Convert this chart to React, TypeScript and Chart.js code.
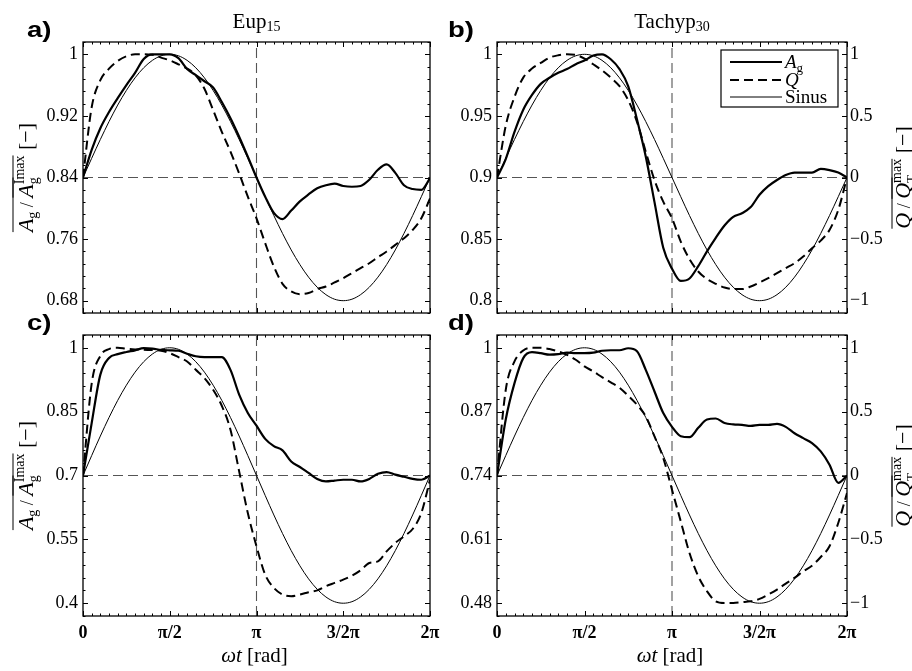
import React, { useEffect, useRef } from 'react';
import { Chart, registerables } from 'chart.js';

Chart.register(...registerables);

const W = 912;
const H = 671;
const SERIF = "'Liberation Serif', 'Times New Roman', serif";
const SANS = "'Liberation Sans', Arial, sans-serif";

// phase in units of pi (0 .. 2)
const PHASE = [0, 0.05, 0.1, 0.15, 0.2, 0.25, 0.3, 0.35, 0.4, 0.45, 0.5, 0.55, 0.6, 0.65, 0.7, 0.75, 0.8, 0.85, 0.9, 0.95, 1, 1.05, 1.1, 1.15, 1.2, 1.25, 1.3, 1.35, 1.4, 1.45, 1.5, 1.55, 1.6, 1.65, 1.7, 1.75, 1.8, 1.85, 1.9, 1.95, 2];

const SINUS = [0, 0.156, 0.309, 0.454, 0.588, 0.707, 0.809, 0.891, 0.951, 0.988, 1, 0.988, 0.951, 0.891, 0.809, 0.707, 0.588, 0.454, 0.309, 0.156, 0, -0.156, -0.309, -0.454, -0.588, -0.707, -0.809, -0.891, -0.951, -0.988, -1, -0.988, -0.951, -0.891, -0.809, -0.707, -0.588, -0.454, -0.309, -0.156, 0];

// a) Eup15
const AG_EUP15 = [0.840, 0.876, 0.904, 0.925, 0.943, 0.960, 0.976, 0.994, 1.0, 1.0, 1.0, 0.995, 0.981, 0.973, 0.965, 0.957, 0.938, 0.917, 0.893, 0.867, 0.840, 0.815, 0.794, 0.786, 0.797, 0.809, 0.818, 0.826, 0.830, 0.832, 0.829, 0.828, 0.829, 0.837, 0.850, 0.857, 0.846, 0.830, 0.825, 0.824, 0.839];
const Q_EUP15 = [0, 0.57, 0.79, 0.884, 0.946, 0.984, 1.0, 1.0, 0.997, 0.973, 0.951, 0.919, 0.884, 0.83, 0.72, 0.547, 0.371, 0.21, 0.033, -0.156, -0.331, -0.533, -0.722, -0.863, -0.925, -0.947, -0.938, -0.906, -0.885, -0.852, -0.817, -0.777, -0.736, -0.696, -0.647, -0.601, -0.547, -0.493, -0.426, -0.331, -0.17];

// b) Tachyp30
const AG_TACHYP30 = [0.9, 0.915, 0.937, 0.955, 0.967, 0.976, 0.981, 0.985, 0.988, 0.992, 0.995, 0.999, 1.0, 0.996, 0.988, 0.974, 0.947, 0.917, 0.880, 0.843, 0.826, 0.816, 0.818, 0.828, 0.840, 0.851, 0.861, 0.868, 0.871, 0.876, 0.886, 0.893, 0.898, 0.902, 0.904, 0.904, 0.904, 0.907, 0.906, 0.904, 0.9];
const Q_TACHYP30 = [0, 0.42, 0.654, 0.811, 0.884, 0.93, 0.973, 0.992, 1.0, 0.995, 0.965, 0.919, 0.87, 0.811, 0.741, 0.627, 0.452, 0.209, -0.021, -0.196, -0.331, -0.52, -0.663, -0.763, -0.825, -0.863, -0.893, -0.906, -0.906, -0.885, -0.852, -0.817, -0.777, -0.736, -0.696, -0.642, -0.574, -0.512, -0.426, -0.264, 0];

// c)
const AG_C = [0.70, 0.823, 0.937, 0.976, 0.985, 0.990, 0.994, 0.999, 0.998, 0.995, 0.994, 0.993, 0.986, 0.980, 0.978, 0.978, 0.978, 0.948, 0.890, 0.847, 0.817, 0.786, 0.769, 0.759, 0.733, 0.720, 0.706, 0.692, 0.686, 0.688, 0.690, 0.690, 0.686, 0.692, 0.704, 0.708, 0.702, 0.697, 0.692, 0.690, 0.700];
const Q_C = [0, 0.72, 0.937, 0.99, 1.0, 0.992, 0.987, 0.984, 0.982, 0.977, 0.958, 0.927, 0.893, 0.828, 0.763, 0.671, 0.546, 0.358, 0.032, -0.294, -0.554, -0.776, -0.88, -0.932, -0.945, -0.932, -0.914, -0.899, -0.867, -0.841, -0.815, -0.784, -0.742, -0.685, -0.672, -0.594, -0.528, -0.476, -0.419, -0.294, -0.033];

// d)
const AG_D = [0.740, 0.854, 0.928, 0.979, 0.991, 0.989, 0.986, 0.987, 0.990, 0.989, 0.989, 0.990, 0.994, 0.995, 0.995, 0.999, 0.993, 0.955, 0.911, 0.867, 0.839, 0.820, 0.818, 0.837, 0.854, 0.856, 0.847, 0.844, 0.843, 0.841, 0.843, 0.843, 0.845, 0.839, 0.826, 0.816, 0.806, 0.789, 0.762, 0.725, 0.740];
const Q_D = [0, 0.671, 0.893, 0.979, 1.0, 1.0, 0.99, 0.971, 0.945, 0.906, 0.854, 0.815, 0.77, 0.729, 0.687, 0.624, 0.554, 0.463, 0.306, 0.137, -0.111, -0.359, -0.607, -0.789, -0.906, -0.985, -0.998, -0.998, -0.992, -0.985, -0.966, -0.932, -0.893, -0.846, -0.802, -0.75, -0.706, -0.638, -0.554, -0.372, -0.137];

const X_TICKS = [0, 0.5, 1, 1.5, 2];
const X_LABELS = ['0', 'π/2', 'π', '3/2π', '2π'];
const Q_TICKS = [-1, -0.5, 0, 0.5, 1];
const Q_LABELS = ['−1', '−0.5', '0', '0.5', '1'];
const Q_RANGE = [-1.1, 1.1];

const Y_TICKS_A = [0.68, 0.76, 0.84, 0.92, 1];
const Y_LABELS_A = ['0.68', '0.76', '0.84', '0.92', '1'];
const Y_RANGE_A = [0.664, 1.016];
const Y_TICKS_B = [0.8, 0.85, 0.9, 0.95, 1];
const Y_LABELS_B = ['0.8', '0.85', '0.9', '0.95', '1'];
const Y_RANGE_B = [0.79, 1.01];
const Y_TICKS_C = [0.4, 0.55, 0.7, 0.85, 1];
const Y_LABELS_C = ['0.4', '0.55', '0.7', '0.85', '1'];
const Y_RANGE_C = [0.37, 1.03];
const Y_TICKS_D = [0.48, 0.61, 0.74, 0.87, 1];
const Y_LABELS_D = ['0.48', '0.61', '0.74', '0.87', '1'];
const Y_RANGE_D = [0.454, 1.026];

const REF_Q = 0;
const REF_PHASE = 1;

const YW = 60;
const Y2W = 50;
const XH = 30;

type Run = { t: string; size: number; italic?: boolean; dy?: number; ol?: boolean; noAdv?: boolean };

type Spec = {
  key: string;
  area: { l: number; r: number; t: number; b: number };
  ag: number[];
  q: number[];
  yTicks: number[];
  yLabels: string[];
  yRange: number[];
  letter: string;
  letterPos: [number, number];
  title: [string, string] | null;
  showX: boolean;
  showRight: boolean;
  leftTitle: boolean;
  rightTitle: boolean;
  legend: boolean;
};

const PANELS: Spec[] = [
  { key: 'a', area: { l: 83, r: 430, t: 42, b: 313 }, ag: AG_EUP15, q: Q_EUP15, yTicks: Y_TICKS_A, yLabels: Y_LABELS_A, yRange: Y_RANGE_A, letter: 'a)', letterPos: [27, 36.5], title: ['Eup', '15'], showX: false, showRight: false, leftTitle: true, rightTitle: false, legend: false },
  { key: 'b', area: { l: 497, r: 847, t: 42, b: 313 }, ag: AG_TACHYP30, q: Q_TACHYP30, yTicks: Y_TICKS_B, yLabels: Y_LABELS_B, yRange: Y_RANGE_B, letter: 'b)', letterPos: [448, 36.5], title: ['Tachyp', '30'], showX: false, showRight: true, leftTitle: false, rightTitle: true, legend: true },
  { key: 'c', area: { l: 83, r: 430, t: 335, b: 616 }, ag: AG_C, q: Q_C, yTicks: Y_TICKS_C, yLabels: Y_LABELS_C, yRange: Y_RANGE_C, letter: 'c)', letterPos: [27, 330], title: null, showX: true, showRight: false, leftTitle: true, rightTitle: false, legend: false },
  { key: 'd', area: { l: 497, r: 847, t: 335, b: 616 }, ag: AG_D, q: Q_D, yTicks: Y_TICKS_D, yLabels: Y_LABELS_D, yRange: Y_RANGE_D, letter: 'd)', letterPos: [448, 330], title: null, showX: true, showRight: true, leftTitle: false, rightTitle: true, legend: false },
];

const labelFor = (vals: number[], labels: string[], v: number) => {
  const i = vals.findIndex((t) => Math.abs(t - v) < 1e-6);
  return i >= 0 ? labels[i] : '';
};

function tickMarks(vals: number[], div: number, min: number, max: number): [number, boolean][] {
  const out: [number, boolean][] = [];
  const step = (vals[1] - vals[0]) / div;
  vals.forEach((v) => out.push([v, true]));
  for (let i = 0; i < vals.length - 1; i++) {
    for (let j = 1; j < div; j++) out.push([vals[i] + ((vals[i + 1] - vals[i]) * j) / div, false]);
  }
  for (let v = vals[0] - step; v >= min - 1e-9; v -= step) out.push([v, false]);
  for (let v = vals[vals.length - 1] + step; v <= max + 1e-9; v += step) out.push([v, false]);
  return out;
}

const runFont = (r: Run) => `${r.italic ? 'italic ' : ''}${r.size}px ${SERIF}`;

function drawRuns(ctx: CanvasRenderingContext2D, runs: Run[], x: number, y: number, align: 'center' | 'left', olOff: number) {
  const widths = runs.map((r) => {
    ctx.font = runFont(r);
    return ctx.measureText(r.t).width;
  });
  let total = 0;
  runs.forEach((r, i) => {
    if (!r.noAdv) total += widths[i];
  });
  let cx = align === 'center' ? x - total / 2 : x;
  ctx.textAlign = 'left';
  ctx.textBaseline = 'alphabetic';
  let olStart: number | null = null;
  let olEnd = 0;
  const flush = () => {
    if (olStart !== null) {
      ctx.beginPath();
      ctx.lineWidth = 1;
      ctx.moveTo(olStart, y - olOff);
      ctx.lineTo(olEnd, y - olOff);
      ctx.stroke();
      olStart = null;
    }
  };
  runs.forEach((r, i) => {
    ctx.font = runFont(r);
    ctx.fillText(r.t, cx, y + (r.dy || 0));
    if (r.ol) {
      if (olStart === null) olStart = cx;
      olEnd = Math.max(olEnd, cx + widths[i]);
    } else {
      flush();
    }
    if (!r.noAdv) cx += widths[i];
  });
  flush();
}

const LEFT_TITLE: Run[] = [
  { t: 'A', size: 22, italic: true, ol: true },
  { t: 'g', size: 14, dy: 4, ol: true },
  { t: ' / ', size: 18 },
  { t: 'A', size: 22, italic: true, ol: true },
  { t: 'g', size: 14, dy: 5, ol: true, noAdv: true },
  { t: 'Imax', size: 14, dy: -9, ol: true },
  { t: ' [−]', size: 22 },
];

const RIGHT_TITLE: Run[] = [
  { t: 'Q', size: 22, italic: true, ol: true },
  { t: ' / ', size: 18 },
  { t: 'Q', size: 22, italic: true, ol: true },
  { t: 'T', size: 13, dy: 5, ol: true, noAdv: true },
  { t: 'max', size: 14, dy: -9, ol: true },
  { t: ' [−]', size: 22 },
];

const X_TITLE: Run[] = [
  { t: 'ω', size: 21, italic: true },
  { t: 't', size: 21, italic: true },
  { t: ' [rad]', size: 21 },
];

function makeChart(canvas: HTMLCanvasElement, spec: Spec) {
  const pts = (ys: number[]) => PHASE.map((x, i) => ({ x, y: ys[i] }));
  const { area } = spec;

  const decor = {
    id: 'decor',
    afterDatasetsDraw(chart: any) {
      const ctx: CanvasRenderingContext2D = chart.ctx;
      const a = chart.chartArea;
      const sx = chart.scales.x;
      const sy = chart.scales.y;
      const sq = chart.scales.y2;
      ctx.save();
      ctx.strokeStyle = '#000';
      ctx.lineWidth = 1;
      ctx.beginPath();
      tickMarks(X_TICKS, 10, sx.min, sx.max).forEach(([v, major]) => {
        const p = Math.round(sx.getPixelForValue(v)) + 0.5;
        const len = major ? 5 : 2.5;
        ctx.moveTo(p, a.bottom);
        ctx.lineTo(p, a.bottom - len);
        ctx.moveTo(p, a.top);
        ctx.lineTo(p, a.top + len);
      });
      tickMarks(spec.yTicks, 5, sy.min, sy.max).forEach(([v, major]) => {
        const p = Math.round(sy.getPixelForValue(v)) + 0.5;
        const len = major ? 5 : 2.5;
        ctx.moveTo(a.left, p);
        ctx.lineTo(a.left + len, p);
      });
      tickMarks(Q_TICKS, 5, sq.min, sq.max).forEach(([v, major]) => {
        const p = Math.round(sq.getPixelForValue(v)) + 0.5;
        const len = major ? 5 : 2.5;
        ctx.moveTo(a.right, p);
        ctx.lineTo(a.right - len, p);
      });
      ctx.stroke();
      ctx.lineWidth = 1.3;
      ctx.strokeRect(a.left, a.top, a.right - a.left, a.bottom - a.top);

      if (spec.legend) {
        const bx = a.right - 126;
        const by = a.top + 8;
        const bw = 117;
        const bh = 57;
        ctx.fillStyle = '#fff';
        ctx.fillRect(bx, by, bw, bh);
        ctx.lineWidth = 1.2;
        ctx.strokeRect(bx, by, bw, bh);
        const rows = [12, 30, 47];
        const styles = [
          { w: 2.2, dash: [] as number[] },
          { w: 2, dash: [9, 5] },
          { w: 1, dash: [] as number[] },
        ];
        rows.forEach((ry, i) => {
          ctx.beginPath();
          ctx.lineWidth = styles[i].w;
          ctx.setLineDash(styles[i].dash);
          ctx.moveTo(bx + 9, by + ry);
          ctx.lineTo(bx + 61, by + ry);
          ctx.stroke();
        });
        ctx.setLineDash([]);
        ctx.fillStyle = '#000';
        drawRuns(ctx, [{ t: 'A', size: 19, italic: true }, { t: 'g', size: 13, dy: 4 }], bx + 64, by + rows[0] + 6, 'left', 0);
        drawRuns(ctx, [{ t: 'Q', size: 19, italic: true }], bx + 64, by + rows[1] + 6, 'left', 0);
        drawRuns(ctx, [{ t: 'Sinus', size: 19 }], bx + 64, by + rows[2] + 6, 'left', 0);
      }
      ctx.restore();
    },
    afterDraw(chart: any) {
      const ctx: CanvasRenderingContext2D = chart.ctx;
      const a = chart.chartArea;
      ctx.save();
      ctx.fillStyle = '#000';
      ctx.strokeStyle = '#000';
      // panel letter
      ctx.save();
      ctx.translate(spec.letterPos[0], spec.letterPos[1]);
      ctx.scale(1.25, 1);
      ctx.font = `bold 22px ${SANS}`;
      ctx.textAlign = 'left';
      ctx.textBaseline = 'alphabetic';
      ctx.fillText(spec.letter, 0, 0);
      ctx.restore();
      // title
      if (spec.title) {
        drawRuns(ctx, [{ t: spec.title[0], size: 21 }, { t: spec.title[1], size: 14, dy: 3 }], (a.left + a.right) / 2, a.top - 14, 'center', 0);
      }
      if (spec.showX) {
        drawRuns(ctx, X_TITLE, (a.left + a.right) / 2 - 2, 662, 'center', 0);
      }
      if (spec.leftTitle) {
        ctx.save();
        ctx.translate(23, (a.top + a.bottom) / 2);
        ctx.rotate(-Math.PI / 2);
        drawRuns(ctx, LEFT_TITLE, 0, 10, 'center', 20);
        ctx.restore();
      }
      if (spec.rightTitle) {
        ctx.save();
        ctx.translate(901, (a.top + a.bottom) / 2);
        ctx.rotate(-Math.PI / 2);
        drawRuns(ctx, RIGHT_TITLE, 0, 9, 'center', 18);
        ctx.restore();
      }
      ctx.restore();
    },
  };

  const tickFont = { family: SERIF, size: 18 };

  return new Chart(canvas, {
    type: 'line',
    data: {
      datasets: [
        { label: 'Ag', data: pts(spec.ag), yAxisID: 'y', borderColor: '#000', borderWidth: 2.2, pointRadius: 0, cubicInterpolationMode: 'monotone', order: 1 },
        { label: 'Q', data: pts(spec.q), yAxisID: 'y2', borderColor: '#000', borderWidth: 2, borderDash: [9, 5], pointRadius: 0, cubicInterpolationMode: 'monotone', order: 2 },
        { label: 'Sinus', data: pts(SINUS), yAxisID: 'y2', borderColor: '#000', borderWidth: 1, pointRadius: 0, cubicInterpolationMode: 'monotone', order: 3 },
        { label: 'ref0', data: [{ x: X_TICKS[0], y: REF_Q }, { x: X_TICKS[X_TICKS.length - 1], y: REF_Q }], yAxisID: 'y2', borderColor: '#555', borderWidth: 1.1, borderDash: [10, 5], pointRadius: 0, order: 4 },
        { label: 'refPi', data: [{ x: REF_PHASE, y: Q_RANGE[0] }, { x: REF_PHASE, y: Q_RANGE[1] }], yAxisID: 'y2', borderColor: '#555', borderWidth: 1.1, borderDash: [10, 5], pointRadius: 0, order: 5 },
      ] as any,
    },
    options: {
      responsive: false,
      animation: false,
      events: [],
      layout: { padding: { left: area.l - YW, right: W - area.r - Y2W, top: area.t, bottom: H - area.b - XH } },
      plugins: { legend: { display: false }, tooltip: { enabled: false }, title: { display: false } },
      scales: {
        x: {
          type: 'linear',
          position: 'bottom',
          min: X_TICKS[0],
          max: X_TICKS[X_TICKS.length - 1],
          grid: { display: false, drawTicks: false },
          border: { display: false },
          ticks: {
            display: spec.showX,
            autoSkip: false,
            maxRotation: 0,
            minRotation: 0,
            padding: 7,
            color: '#000',
            font: { family: SERIF, size: 18, weight: 'bold' },
            callback: (v: any) => labelFor(X_TICKS, X_LABELS, Number(v)),
          },
          afterBuildTicks: (s: any) => {
            s.ticks = X_TICKS.map((v) => ({ value: v }));
          },
          afterFit: (s: any) => {
            s.height = XH;
          },
        },
        y: {
          type: 'linear',
          position: 'left',
          min: spec.yRange[0],
          max: spec.yRange[1],
          grid: { display: false, drawTicks: false },
          border: { display: false },
          ticks: {
            autoSkip: false,
            padding: 5,
            color: '#000',
            font: tickFont,
            callback: (v: any) => labelFor(spec.yTicks, spec.yLabels, Number(v)),
          },
          afterBuildTicks: (s: any) => {
            s.ticks = spec.yTicks.map((v) => ({ value: v }));
          },
          afterFit: (s: any) => {
            s.width = YW;
          },
        },
        y2: {
          type: 'linear',
          position: 'right',
          min: Q_RANGE[0],
          max: Q_RANGE[1],
          grid: { display: false, drawTicks: false },
          border: { display: false },
          ticks: {
            display: spec.showRight,
            autoSkip: false,
            padding: 3,
            color: '#000',
            font: tickFont,
            callback: (v: any) => labelFor(Q_TICKS, Q_LABELS, Number(v)),
          },
          afterBuildTicks: (s: any) => {
            s.ticks = Q_TICKS.map((v) => ({ value: v }));
          },
          afterFit: (s: any) => {
            s.width = Y2W;
          },
        },
      },
    } as any,
    plugins: [decor],
  });
}

export default function App() {
  const refs = useRef<(HTMLCanvasElement | null)[]>([]);
  useEffect(() => {
    const charts = PANELS.map((p, i) => makeChart(refs.current[i] as HTMLCanvasElement, p));
    return () => charts.forEach((c) => c.destroy());
  }, []);
  return (
    <div style={{ position: 'fixed', left: 0, top: 0, width: W, height: H, background: '#fff', overflow: 'hidden' }}>
      {PANELS.map((p, i) => (
        <canvas
          key={p.key}
          ref={(el) => {
            refs.current[i] = el;
          }}
          width={W}
          height={H}
          style={{ position: 'absolute', left: 0, top: 0, width: W, height: H }}
        />
      ))}
    </div>
  );
}
